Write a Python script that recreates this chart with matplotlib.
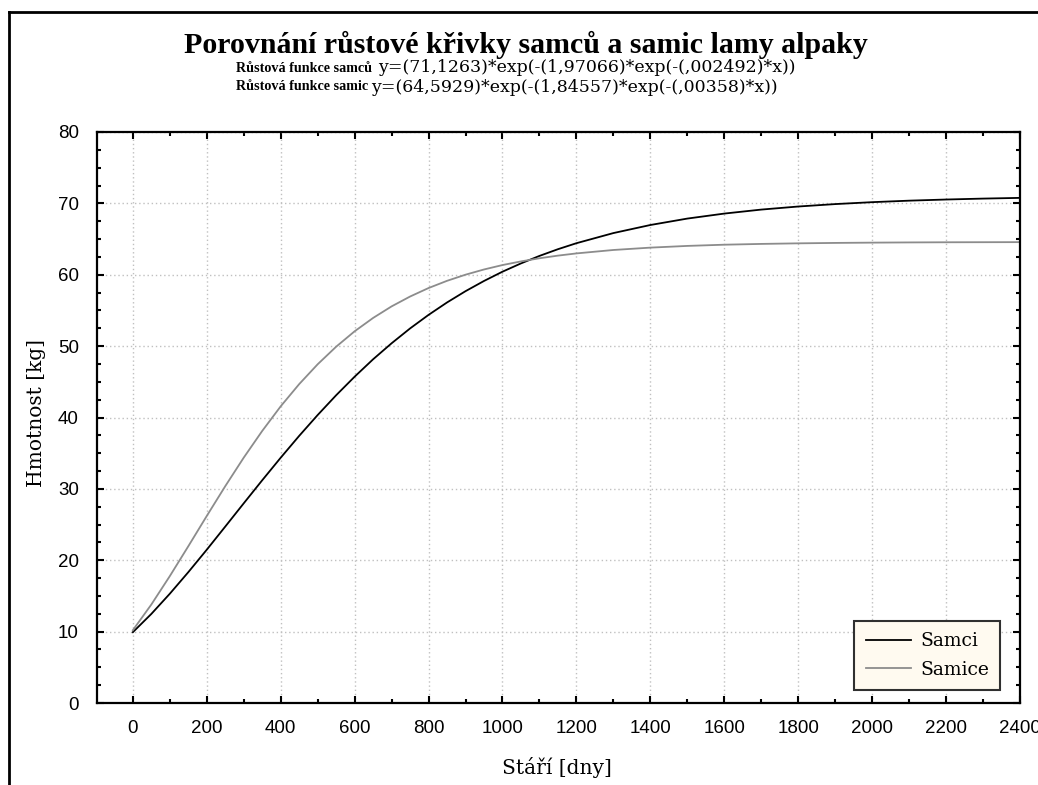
import numpy as np
import matplotlib.pyplot as plt
from matplotlib.lines import Line2D
from matplotlib.ticker import MultipleLocator

# Data (growth curves)
days = [0, 50, 100, 150, 200, 250, 300, 350, 400, 450, 500, 550, 600, 650,
        700, 750, 800, 850, 900, 950, 1000, 1050, 1100, 1150, 1200, 1300,
        1400, 1500, 1600, 1700, 1800, 1900, 2000, 2100, 2200, 2300, 2400]
samci = [9.92, 12.48, 15.31, 18.33, 21.48, 24.72, 27.98, 31.21, 34.37, 37.43,
         40.35, 43.12, 45.72, 48.16, 50.40, 52.48, 54.38, 56.12, 57.70, 59.13,
         60.43, 61.59, 62.64, 63.58, 64.42, 65.84, 66.97, 67.87, 68.57, 69.13,
         69.56, 69.90, 70.17, 70.38, 70.54, 70.67, 70.77]
samice = [10.20, 13.80, 17.78, 21.96, 26.21, 30.38, 34.38, 38.12, 41.57, 44.68,
          47.46, 49.92, 52.08, 53.95, 55.57, 56.95, 58.14, 59.15, 60.01, 60.74,
          61.36, 61.87, 62.31, 62.68, 62.99, 63.47, 63.80, 64.04, 64.21, 64.32,
          64.40, 64.46, 64.50, 64.53, 64.55, 64.56, 64.57]
x_ticks = [0, 200, 400, 600, 800, 1000, 1200, 1400, 1600, 1800, 2000, 2200, 2400]
y_ticks = [0, 10, 20, 30, 40, 50, 60, 70, 80]

title = "Porovnání růstové křivky samců a samic lamy alpaky"
sub1_bold, sub1 = "Růstová funkce samců", "y=(71,1263)*exp(-(1,97066)*exp(-(,002492)*x))"
sub2_bold, sub2 = "Růstová funkce samic", "y=(64,5929)*exp(-(1,84557)*exp(-(,00358)*x))"

W, H = 1038, 785
fig = plt.figure(figsize=(W / 100, H / 100), dpi=100)
fig.patch.set_facecolor('white')

# axes placed in pixel coordinates
l, r, t, b = 97, 1020, 132, 703
ax = fig.add_axes([l / W, 1 - b / H, (r - l) / W, (b - t) / H])

ax.plot(days, samci, color='black', lw=1.3, label='Samci')
ax.plot(days, samice, color='#8c8c8c', lw=1.3, label='Samice')

ax.set_xlim(-97, 2400)
ax.set_ylim(0, 80)
ax.set_xticks(x_ticks)
ax.set_yticks(y_ticks)
ax.xaxis.set_minor_locator(MultipleLocator(100))
ax.yaxis.set_minor_locator(MultipleLocator(2.5))
ax.tick_params(which='both', direction='in', top=True, right=True, width=1.5)
ax.tick_params(which='major', length=5, labelsize=13.5)
ax.tick_params(which='minor', length=3)
ax.tick_params(axis='y', pad=13)
ax.tick_params(axis='x', pad=12)
for lab in ax.get_xticklabels() + ax.get_yticklabels():
    lab.set_family('Liberation Sans')
for s in ax.spines.values():
    s.set_linewidth(1.6)

ax.grid(True, which='major', color='#c0c0c0', linestyle=(0, (1, 2)), lw=1)

ax.set_xlabel('Stáří [dny]', family='DejaVu Serif', fontsize=14.5)
ax.set_ylabel('Hmotnost [kg]', family='DejaVu Serif', fontsize=14.5)
ax.xaxis.set_label_coords((557 - l) / (r - l), (b - 768) / (b - t))
ax.yaxis.set_label_coords((37 - l) / (r - l), (b - 413) / (b - t))
ax.xaxis.label.set_va('center')
ax.yaxis.label.set_va('center')

leg = ax.legend(loc='lower right', bbox_to_anchor=((1000 - l) / (r - l), (b - 690) / (b - t)),
                borderaxespad=0, frameon=True, fancybox=False,
                prop={'family': 'DejaVu Serif', 'size': 13.5},
                handlelength=2.4, borderpad=0.6, labelspacing=0.55, handletextpad=0.5)
leg.get_frame().set_facecolor('#fffaf0')
leg.get_frame().set_edgecolor('#303030')
leg.get_frame().set_linewidth(1.5)
leg.get_frame().set_alpha(1)

# titles
fig.text(526 / W, 1 - 45 / H, title, ha='center', va='center',
         family='Liberation Serif', weight='bold', fontsize=21.5)
fig.text(372 / W, 1 - 68 / H, sub1_bold, ha='right', va='center',
         family='Liberation Serif', weight='bold', fontsize=10.2)
fig.text(378 / W, 1 - 68 / H, sub1, ha='left', va='center',
         family='DejaVu Serif', fontsize=12.5)
fig.text(368 / W, 1 - 87 / H, sub2_bold, ha='right', va='center',
         family='Liberation Serif', weight='bold', fontsize=10.2)
fig.text(371 / W, 1 - 87 / H, sub2, ha='left', va='center',
         family='DejaVu Serif', fontsize=12.5)

# outer window frame (left and top edges)
fig.add_artist(Line2D([9 / W, 9 / W], [0, 1 - 12 / H], color='black', lw=2))
fig.add_artist(Line2D([9 / W, 1], [1 - 12 / H, 1 - 12 / H], color='black', lw=2))

fig.savefig('out.png', dpi=100)
